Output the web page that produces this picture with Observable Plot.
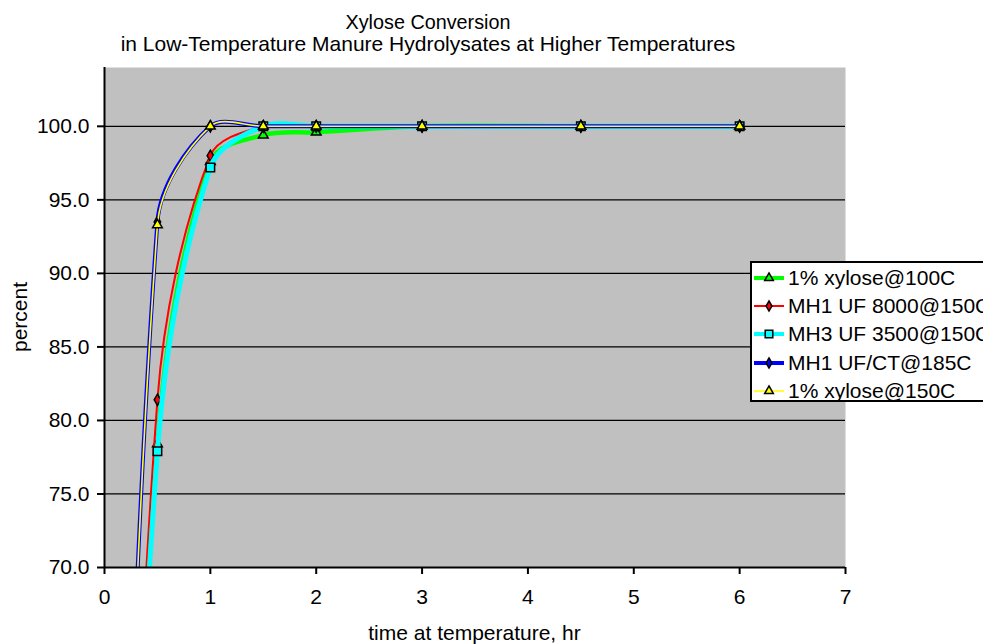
<!DOCTYPE html>
<html><head><meta charset="utf-8">
<script src="https://cdn.jsdelivr.net/npm/d3@7"></script>
<script src="https://cdn.jsdelivr.net/npm/@observablehq/plot@0.6"></script>
<style>
body{margin:0;background:#fff;overflow:hidden;font-family:"Liberation Sans",Arial,sans-serif;color:#000;}
#wrap{position:relative;width:983px;height:644px;overflow:hidden;}
#chart{position:absolute;left:0;top:0;}
.title{position:absolute;left:0;width:856px;text-align:center;white-space:nowrap;}
#title1{top:12px;font-size:19.8px;line-height:20px;height:20px;}
#title2{top:33px;font-size:21px;line-height:21px;height:21px;}
#ylabel{position:absolute;left:0;top:0;font-size:21px;white-space:nowrap;}
#xlabel{position:absolute;left:0;width:949px;top:621px;text-align:center;font-size:21px;}
#legend{position:absolute;left:750px;top:261px;width:260px;height:137px;border:2px solid #000;background:#fff;font-size:21px;}
.row{position:absolute;left:0;height:28px;display:flex;align-items:center;white-space:nowrap;}
.row svg{margin-left:1px;margin-right:3px;}
</style></head><body>
<div id="wrap">
  <div id="chart"></div>
  <div class="title" id="title1">Xylose Conversion</div>
  <div class="title" id="title2">in Low-Temperature Manure Hydrolysates at Higher Temperatures</div>
  <div id="ylabel">percent</div>
  <div id="xlabel">time at temperature, hr</div>
  <div id="legend"></div>
</div>
<script>
// ---- data ----
const times = [0, 0.5, 1, 1.5, 2, 3, 4.5, 6];
const seriesNames = ["1% xylose@100C", "MH1 UF 8000@150C", "MH3 UF 3500@150C", "MH1 UF/CT@185C", "1% xylose@150C"];
const xylose100 = [0, 78.4, 97.6, 99.4, 99.6, 100, 100, 100];
const mh1uf8000 = [0, 81.4, 98.0, 100, 100, 100, 100, 100];
const mh3uf3500 = [0, 77.9, 97.2, 100, 100, 100, 100, 100];
const mh1ufct = [0, 93.5, 100, 100, 100, 100, 100, 100];
const xylose150 = [0, 93.3, 100, 100, 100, 100, 100, 100];
const yTicks = [70, 75, 80, 85, 90, 95, 100];
const xTicks = [0, 1, 2, 3, 4, 5, 6, 7];

// ---- styles ----
const styles = [
  {color: "#00FF00", width: 4.5, symbol: "triangle", r: 3.6},
  {color: "#FF0000", width: 2, symbol: "diamond", r: 3.4},
  {color: "#00FFFF", width: 5, symbol: "square", r: 4.8},
  {color: "#0000FF", width: 4, symbol: "diamond", r: 3.4},
  {color: "#FFFF00", width: 1.6, symbol: "triangle", r: 3.6}
];
const values = [xylose100, mh1uf8000, mh3uf3500, mh1ufct, xylose150];
const series = seriesNames.map((name, i) => ({
  name, style: styles[i],
  data: times.map((t, j) => ({t, v: values[i][j], name}))
}));

// Spreadsheet-style smoothed line: cubic Bezier with length-weighted tangents (in pixel space)
function smoothCurve(context) {
  let pts = [];
  return {
    areaStart() {}, areaEnd() {},
    lineStart() { pts = []; },
    point(x, y) { pts.push([+x, +y]); },
    lineEnd() {
      const n = pts.length;
      if (!n) return;
      context.moveTo(pts[0][0], pts[0][1]);
      if (n === 1) return;
      const dist = (a, b) => Math.hypot(b[0] - a[0], b[1] - a[1]);
      for (let i = 0; i < n - 1; i++) {
        const p0 = pts[i - 1] || pts[i], p1 = pts[i], p2 = pts[i + 1], p3 = pts[i + 2] || pts[i + 1];
        const d01 = dist(p0, p1), d12 = dist(p1, p2), d23 = dist(p2, p3);
        const f1 = (d01 + d12) ? d12 / (d01 + d12) / 3 : 0;
        const f2 = (d12 + d23) ? d12 / (d12 + d23) / 3 : 0;
        const c1 = [p1[0] + (p2[0] - p0[0]) * f1, p1[1] + (p2[1] - p0[1]) * f1];
        const c2 = [p2[0] - (p3[0] - p1[0]) * f2, p2[1] - (p3[1] - p1[1]) * f2];
        context.bezierCurveTo(c1[0], c1[1], c2[0], c2[1], p2[0], p2[1]);
      }
    }
  };
}

const marks = [
  Plot.frame({fill: "#C0C0C0", stroke: null}),
  Plot.ruleY(yTicks, {stroke: "#000", strokeWidth: 1.2})
];
for (const s of series) {
  marks.push(Plot.line(s.data, {x: "t", y: "v", stroke: s.style.color, strokeWidth: s.style.width, curve: smoothCurve, clip: true}));
  marks.push(Plot.dot(s.data, {x: "t", y: "v", symbol: () => s.style.symbol, r: s.style.r, fill: s.style.color, stroke: "#000", strokeWidth: 1.5, clip: true}));
}
marks.push(Plot.ruleX([0], {stroke: "#000", strokeWidth: 2}));
marks.push(Plot.ruleY([70], {stroke: "#000", strokeWidth: 2}));
marks.push(Plot.axisX(xTicks, {tickSize: 7, tickPadding: 15, fontSize: 21, label: null, tickFormat: d => String(d), strokeWidth: 2}));
marks.push(Plot.axisY(yTicks, {tickSize: 7, tickPadding: 8, fontSize: 21, label: null, tickFormat: d => d.toFixed(1), strokeWidth: 2}));

const chart = Plot.plot({
  width: 983, height: 644,
  marginLeft: 104, marginRight: 138, marginTop: 67, marginBottom: 77,
  x: {domain: [0, 7]},
  y: {domain: [70, 104]},
  style: {fontFamily: "Liberation Sans, Arial, sans-serif", color: "#000", background: "transparent"},
  marks
});
document.getElementById("chart").appendChild(chart);

// y label rotated
const yl = document.getElementById("ylabel");
const w = yl.offsetWidth, h = yl.offsetHeight;
yl.style.transformOrigin = "0 0";
yl.style.transform = `translate(${19.5 - h/2}px, ${317 + w/2}px) rotate(-90deg)`;

// legend
const legend = document.getElementById("legend");
series.forEach((s, i) => {
  const row = document.createElement("div");
  row.className = "row";
  row.style.top = (1 + i * 28.2) + "px";
  const sw = d3.create("svg").attr("width", 32).attr("height", 14);
  sw.append("line").attr("x1", 1).attr("x2", 31).attr("y1", 7).attr("y2", 7)
    .attr("stroke", s.style.color).attr("stroke-width", Math.min(s.style.width, 4));
  const sym = {triangle: d3.symbolTriangle, diamond: d3.symbolDiamond, square: d3.symbolSquare}[s.style.symbol];
  sw.append("path").attr("d", d3.symbol(sym, Math.PI * s.style.r * s.style.r * 0.8)())
    .attr("transform", "translate(16,7)").attr("fill", s.style.color).attr("stroke", "#000").attr("stroke-width", 1.5);
  row.appendChild(sw.node());
  const txt = document.createElement("span");
  txt.textContent = s.name;
  row.appendChild(txt);
  legend.appendChild(row);
});
</script>
</body></html>
